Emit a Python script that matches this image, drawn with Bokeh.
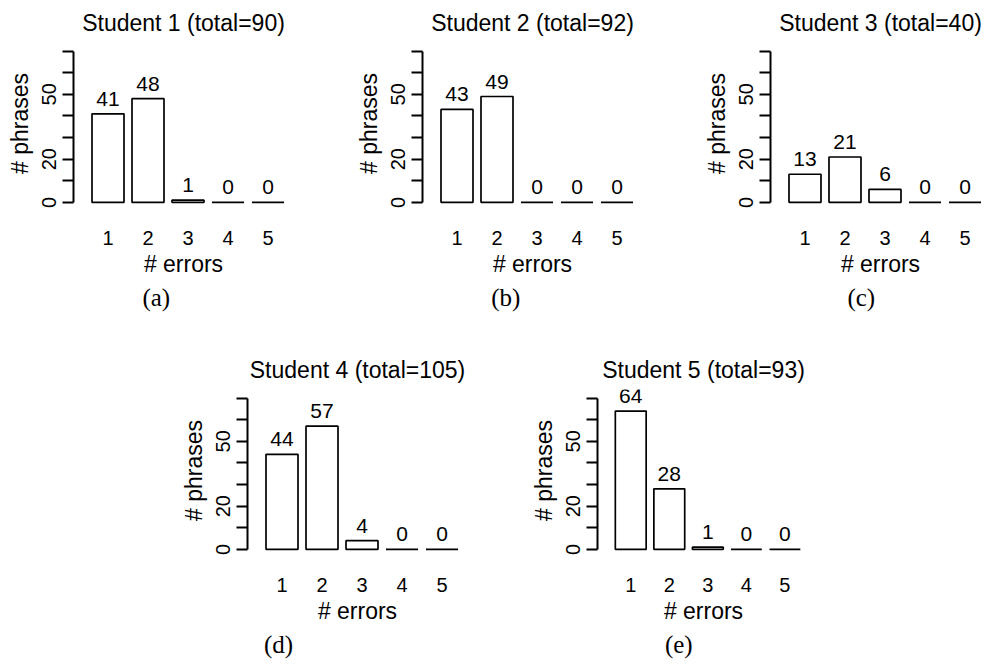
from bokeh.plotting import figure
from bokeh.models import Range1d, FixedTicker, Title, Spacer, ColumnDataSource
from bokeh.layouts import row, column
from bokeh.embed import file_html
from bokeh.resources import INLINE
from bokeh.core.properties import value

# ---------------- data ----------------
errors = [1, 2, 3, 4, 5]
x_tick_labels = ["1", "2", "3", "4", "5"]
y_ticks = [0, 10, 20, 30, 40, 50, 60, 70]
y_tick_labels = ["0", "", "20", "", "", "50", "", ""]
student_names = ["Student 1", "Student 2", "Student 3", "Student 4", "Student 5"]
totals = [90, 92, 40, 105, 93]
captions = ["(a)", "(b)", "(c)", "(d)", "(e)"]
student1 = [41, 48, 1, 0, 0]
student2 = [43, 49, 0, 0, 0]
student3 = [13, 21, 6, 0, 0]
student4 = [44, 57, 4, 0, 0]
student5 = [64, 28, 1, 0, 0]
x_label = "# errors"
y_label = "# phrases"

# ---------------- layout / style ----------------
SANS = "Liberation Sans"
SERIF = "Liberation Serif"
BORDER_L = 73
FRAME_W = 220
BORDER_T = 42
FRAME_H = 162
X0, X1 = 0.1375, 0.1375 + FRAME_W / 40.0
Y0, Y1 = -1, 74
ROW1_H = 347
ROW2_H = 316


def make_panel(name, total, counts, caption, width, height, cap_offset):
    p = figure(width=width, height=height, output_backend="svg", toolbar_location=None,
               x_range=Range1d(X0, X1), y_range=Range1d(Y0, Y1),
               min_border_left=BORDER_L, min_border_right=width - BORDER_L - FRAME_W,
               min_border_top=BORDER_T, min_border_bottom=height - BORDER_T - FRAME_H)
    p.title = Title(text=f"{name} (total={total})", align="center", standoff=13,
                    text_font=SANS, text_font_size="23px", text_font_style="normal",
                    text_color="black")
    p.outline_line_color = None
    p.xgrid.visible = False
    p.ygrid.visible = False
    p.background_fill_color = "white"
    p.border_fill_color = "white"

    src = ColumnDataSource(dict(x=errors, top=counts, label=[str(c) for c in counts]))
    p.vbar(x="x", top="top", bottom=0, width=0.8, source=src,
           fill_color="white", line_color="black", line_width=1.7)
    p.text(x="x", y="top", text="label", source=src, y_offset=-15,
           text_align="center", text_baseline="alphabetic",
           text_font=value(SANS), text_font_size="21px", text_color="black")

    yax = p.yaxis[0]
    yax.ticker = FixedTicker(ticks=y_ticks)
    yax.major_label_overrides = {t: l for t, l in zip(y_ticks, y_tick_labels)}
    yax.bounds = (0, 70)
    yax.axis_line_width = 2
    yax.major_tick_line_width = 2
    yax.major_tick_out = 11
    yax.major_tick_in = 0
    yax.minor_tick_out = 0
    yax.minor_tick_in = 0
    yax.major_label_orientation = "vertical"
    yax.major_label_standoff = 6
    yax.major_label_text_font = SANS
    yax.major_label_text_font_size = "20px"
    yax.major_label_text_color = "black"
    yax.axis_label = y_label
    yax.axis_label_standoff = 7
    yax.axis_label_text_font = SANS
    yax.axis_label_text_font_size = "23px"
    yax.axis_label_text_font_style = "normal"
    yax.axis_label_text_color = "black"

    xax = p.xaxis[0]
    xax.ticker = FixedTicker(ticks=errors)
    xax.major_label_overrides = {e: l for e, l in zip(errors, x_tick_labels)}
    xax.axis_line_color = None
    xax.major_tick_out = 0
    xax.major_tick_in = 0
    xax.minor_tick_out = 0
    xax.minor_tick_in = 0
    xax.major_label_standoff = 26
    xax.major_label_text_font = SANS
    xax.major_label_text_font_size = "20px"
    xax.major_label_text_color = "black"
    xax.axis_label = x_label
    xax.axis_label_standoff = 3
    xax.axis_label_text_font = SANS
    xax.axis_label_text_font_size = "23px"
    xax.axis_label_text_font_style = "normal"
    xax.axis_label_text_color = "black"

    p.add_layout(Title(text=caption, align="left", offset=cap_offset, standoff=5,
                       text_font=SERIF, text_font_size="25px", text_font_style="normal",
                       text_color="black"), "below")
    return p


pa = make_panel(student_names[0], totals[0], student1, captions[0], 349, ROW1_H, 68.9)
pb = make_panel(student_names[1], totals[1], student2, captions[1], 348, ROW1_H, 68.7)
pc = make_panel(student_names[2], totals[2], student3, captions[2], 293, ROW1_H, 76.9)
pd = make_panel(student_names[3], totals[3], student4, captions[3], 350, ROW2_H, 16.4)
pe = make_panel(student_names[4], totals[4], student5, captions[4], 285, ROW2_H, 67.4)

layout = column(row(pa, pb, pc), row(Spacer(width=174, height=ROW2_H), pd, pe))

open("out.html", "w").write(file_html(layout, INLINE))
